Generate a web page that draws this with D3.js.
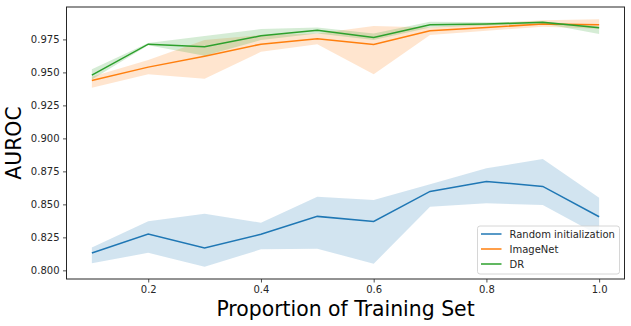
<!DOCTYPE html>
<html>
<head>
<meta charset="utf-8">
<script src="https://cdn.jsdelivr.net/npm/d3@7"></script>
<style>
  body { margin: 0; background: #fff; }
  text { font-family: "DejaVu Sans", sans-serif; }
</style>
</head>
<body>
<div id="chart"></div>
<script>
// Data
var proportions = [0.1, 0.2, 0.3, 0.4, 0.5, 0.6, 0.7, 0.8, 0.9, 1.0]

var randomMean  = [0.8131, 0.8275, 0.8169, 0.8273, 0.8409, 0.8371, 0.8598, 0.8674, 0.8636, 0.8406]
var randomLow   = [0.8053, 0.8133, 0.8027, 0.8159, 0.8164, 0.8050, 0.8482, 0.8508, 0.8495, 0.8265]
var randomHigh  = [0.8174, 0.8373, 0.8429, 0.8361, 0.8558, 0.8533, 0.8652, 0.8773, 0.8843, 0.8550]

var imagenetMean = [0.9439, 0.9540, 0.9623, 0.9714, 0.9755, 0.9712, 0.9815, 0.9841, 0.9866, 0.9861]
var imagenetLow  = [0.9383, 0.9485, 0.9452, 0.9656, 0.9714, 0.9485, 0.9783, 0.9815, 0.9846, 0.9830]
var imagenetHigh = [0.9467, 0.9593, 0.9745, 0.9783, 0.9795, 0.9851, 0.9840, 0.9870, 0.9895, 0.9902]

var drMean = [0.9480, 0.9714, 0.9694, 0.9777, 0.9820, 0.9765, 0.9861, 0.9866, 0.9879, 0.9838]
var drLow  = [0.9447, 0.9705, 0.9626, 0.9745, 0.9795, 0.9745, 0.9841, 0.9855, 0.9870, 0.9790]
var drHigh = [0.9523, 0.9722, 0.9775, 0.9828, 0.9841, 0.9795, 0.9883, 0.9880, 0.9885, 0.9850]

var seriesNames = ["Random initialization", "ImageNet", "DR"]
var xTicks = [0.2, 0.4, 0.6, 0.8, 1.0]
var yTicks = [0.800, 0.825, 0.850, 0.875, 0.900, 0.925, 0.950, 0.975]

var series = [
  { name: seriesNames[0], mean: randomMean, low: randomLow, high: randomHigh, color: "#1f77b4" },
  { name: seriesNames[1], mean: imagenetMean, low: imagenetLow, high: imagenetHigh, color: "#ff7f0e" },
  { name: seriesNames[2], mean: drMean, low: drLow, high: drHigh, color: "#2ca02c" }
]

var width = 631
var height = 326
var margin = { top: 7, right: 6.5, bottom: 47, left: 66.5 }

var svg = d3.select("#chart")
  .append("svg")
  .attr("width", width)
  .attr("height", height)

var x = d3.scaleLinear()
  .domain([0.055, 1.045])
  .range([margin.left, width - margin.right])

var y = d3.scaleLinear()
  .domain([0.79345, 0.99955])
  .range([height - margin.bottom, margin.top])

// Bands and lines
var area = d3.area()
  .x(function(d, i) { return x(proportions[i]) })
  .y0(function(d) { return y(d[0]) })
  .y1(function(d) { return y(d[1]) })

var line = d3.line()
  .x(function(d, i) { return x(proportions[i]) })
  .y(function(d) { return y(d) })

series.forEach(function(s) {
  var band = s.low.map(function(v, i) { return [v, s.high[i]] })
  svg.append("path")
    .attr("d", area(band))
    .attr("fill", s.color)
    .attr("fill-opacity", 0.2)
  svg.append("path")
    .attr("d", line(s.mean))
    .attr("fill", "none")
    .attr("stroke", s.color)
    .attr("stroke-width", 1.5)
})

// Axes
svg.append("g")
  .attr("transform", "translate(0," + (height - margin.bottom) + ")")
  .call(d3.axisBottom(x).tickValues(xTicks).tickFormat(d3.format(".1f")).tickSizeOuter(0).tickSize(3.5).tickPadding(3.5))
svg.append("g")
  .attr("transform", "translate(" + margin.left + ",0)")
  .call(d3.axisLeft(y).tickValues(yTicks).tickFormat(d3.format(".3f")).tickSizeOuter(0).tickSize(3.5).tickPadding(3.5))

svg.selectAll(".tick text").style("font-size", "10px").attr("fill", "#262626")
svg.selectAll(".tick line").attr("stroke", "#262626").attr("stroke-width", 0.8)
svg.selectAll(".domain").remove()

// Frame
svg.append("rect")
  .attr("x", margin.left)
  .attr("y", margin.top)
  .attr("width", width - margin.left - margin.right)
  .attr("height", height - margin.top - margin.bottom)
  .attr("fill", "none")
  .attr("stroke", "#262626")
  .attr("stroke-width", 1)

// Axis labels
svg.append("text")
  .attr("x", (margin.left + width - margin.right) / 2)
  .attr("y", 316)
  .attr("text-anchor", "middle")
  .style("font-size", "20.4px")
  .text("Proportion of Training Set")

svg.append("text")
  .attr("transform", "translate(21," + ((margin.top + height - margin.bottom) / 2) + ") rotate(-90)")
  .attr("text-anchor", "middle")
  .style("font-size", "20.4px")
  .text("AUROC")

// Legend
var legend = svg.append("g").attr("transform", "translate(477.5,226)")
legend.append("rect")
  .attr("width", 142)
  .attr("height", 48)
  .attr("rx", 2.5)
  .attr("fill", "#fff")
  .attr("fill-opacity", 0.8)
  .attr("stroke", "#cccccc")
  .attr("stroke-width", 0.8)

series.forEach(function(s, i) {
  var row = legend.append("g").attr("transform", "translate(0," + (8 + i * 15) + ")")
  row.append("line")
    .attr("x1", 3.5).attr("x2", 24)
    .attr("stroke", s.color)
    .attr("stroke-width", 1.5)
  row.append("text")
    .attr("x", 32)
    .attr("dy", "0.35em")
    .style("font-size", "10px")
    .attr("fill", "#262626")
    .text(s.name)
})
</script>
</body>
</html>
